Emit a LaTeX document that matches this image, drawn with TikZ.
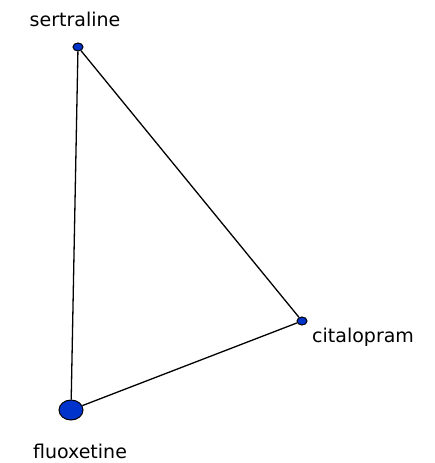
\documentclass[tikz,border=0pt]{standalone}
\usepackage{fontspec}
\setmainfont{DejaVu Sans}
\usetikzlibrary{shapes.geometric}
\definecolor{vblue}{RGB}{0,51,204}
\begin{document}
\begin{tikzpicture}[x=1pt,y=-1pt,
  vert/.style={draw=black,fill=vblue,ellipse,inner sep=0pt,line width=1pt},
  lbl/.style={font=\fontsize{19}{22}\selectfont,inner sep=0pt},
  edge/.style={draw=black,line width=1.3pt}]
\useasboundingbox (0,0) rectangle (434,463);
\node[vert,minimum width=10pt,minimum height=8pt] (s) at (78,47) {};
\node[vert,minimum width=10pt,minimum height=8pt] (c) at (302,321) {};
\node[vert,minimum width=24pt,minimum height=20pt] (f) at (71,410) {};
\path[edge] (s) -- (c) -- (f) -- (s);
\node[lbl] (sl) at (75,19) {sertraline};
\node[lbl,anchor=west] (cl) at (312,337) {citalopram};
\node[lbl] (fl) at (80,451) {fluoxetine};
\end{tikzpicture}
\end{document}
